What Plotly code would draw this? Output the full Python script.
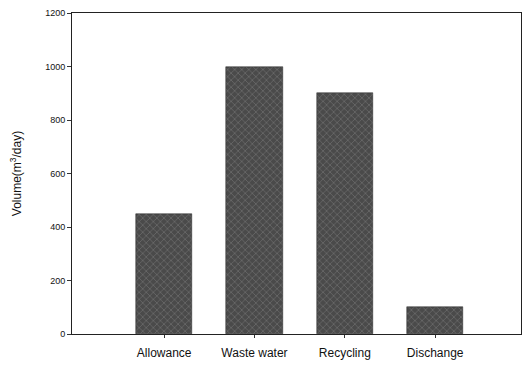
import plotly.graph_objects as go

categories = ["Allowance", "Waste water", "Recycling", "Dischange"]
values = [450, 1000, 900, 100]
y_ticks = [0, 200, 400, 600, 800, 1000, 1200]

fig = go.Figure()
fig.add_trace(go.Bar(
    x=list(range(len(categories))),
    y=values,
    width=0.62,
    marker=dict(
        color="#4a4a4a",
        line=dict(color="#222", width=0.5),
        pattern=dict(shape="x", fgcolor="#939393", size=5, solidity=0.25),
    ),
))

fig.update_layout(
    width=522, height=365,
    margin=dict(l=72, r=1, t=13, b=31, autoexpand=False),
    paper_bgcolor="white", plot_bgcolor="white",
    showlegend=False,
    font=dict(family="Liberation Sans, Arial", color="#111"),
    bargap=0,
)
fig.update_xaxes(
    automargin=False,
    range=[-1.02, 3.95],
    tickvals=list(range(len(categories))),
    ticktext=categories,
    ticks="outside", ticklen=3, tickcolor="#333",
    ticklabelstandoff=5,
    tickfont=dict(size=12),
    showline=True, linecolor="#222", linewidth=1, mirror=True,
    showgrid=False, zeroline=False,
)
fig.update_yaxes(
    automargin=False,
    range=[0, 1200],
    tickvals=y_ticks,
    ticks="outside", ticklen=4, tickcolor="#333",
    tickfont=dict(size=9),
    showline=True, linecolor="#222", linewidth=1, mirror=True,
    showgrid=False, zeroline=False,
    title=dict(text="Volume(m<sup>3</sup>/day)", font=dict(size=12), standoff=20),
)

fig.write_html(
    "out.html",
    config={"displayModeBar": False},
    post_script="document.body.style.margin='0';document.body.style.overflow='hidden';",
)
